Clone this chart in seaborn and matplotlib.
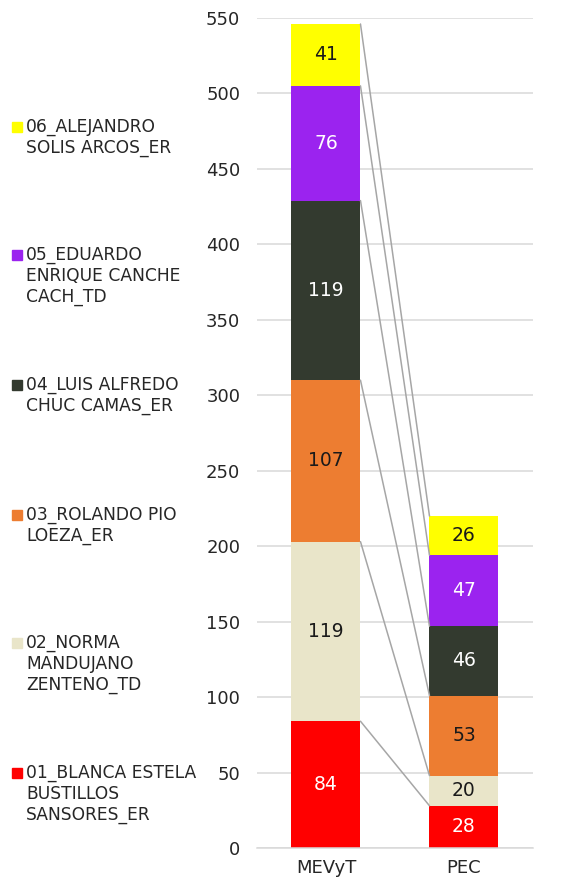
import numpy as np
import pandas as pd
import matplotlib
matplotlib.use("Agg")
import matplotlib.pyplot as plt
from matplotlib.patches import Rectangle
import seaborn as sns

# datos
categorias = ["MEVyT", "PEC"]
series = ["01_BLANCA ESTELA\nBUSTILLOS\nSANSORES_ER",
          "02_NORMA\nMANDUJANO\nZENTENO_TD",
          "03_ROLANDO PIO\nLOEZA_ER",
          "04_LUIS ALFREDO\nCHUC CAMAS_ER",
          "05_EDUARDO\nENRIQUE CANCHE\nCACH_TD",
          "06_ALEJANDRO\nSOLIS ARCOS_ER"]
valores = [[84, 28],
           [119, 20],
           [107, 53],
           [119, 46],
           [76, 47],
           [41, 26]]
colores = ["#FF0000", "#E9E5C9", "#ED7D31", "#333A2F", "#9B23EF", "#FFFF00"]
color_texto = ["white", "#1a1a1a", "#1a1a1a", "white", "white", "#1a1a1a"]

sns.set_style("white")
plt.rcParams["font.family"] = ["DejaVu Sans"]

vals = np.array(valores, dtype=float)
acum = np.cumsum(vals, axis=0)

fig = plt.figure(figsize=(5.78, 8.89), dpi=100)
ax = fig.add_axes([0.4446, 0.0461, 0.4775, 0.9337])

# barras apiladas: se dibuja el acumulado de arriba hacia abajo
for i in range(len(series) - 1, -1, -1):
    df = pd.DataFrame({"cat": categorias, "total": acum[i]})
    sns.barplot(data=df, x="cat", y="total", color=colores[i], width=0.5,
                saturation=1, ax=ax, errorbar=None, edgecolor="none", linewidth=0)

# etiquetas de datos
for i in range(len(series)):
    for j in range(len(categorias)):
        y = acum[i][j] - vals[i][j] / 2
        ax.text(j, y, f"{int(vals[i][j])}", ha="center", va="center",
                fontsize=13.5, color=color_texto[i])

# lineas de serie
for i in range(len(series)):
    x0 = 0 + 0.25
    x1 = 1 - 0.25
    ax.plot([x0, x1], [acum[i][0], acum[i][1]], color="#A6A6A6", lw=1.1, zorder=3)

ax.set_ylim(0, 550)
ax.set_xlim(-0.5, 1.5)
ax.set_yticks(range(0, 551, 50))
ax.yaxis.grid(True, color="#D9D9D9", lw=1.1)
ax.set_axisbelow(True)
ax.set_xlabel("")
ax.set_ylabel("")
for s in ["top", "right", "left"]:
    ax.spines[s].set_visible(False)
ax.spines["bottom"].set_color("#D9D9D9")
ax.spines["bottom"].set_linewidth(1.1)
ax.tick_params(axis="y", length=0, labelsize=13, labelcolor="#262626", pad=12)
ax.tick_params(axis="x", length=0, labelsize=13, labelcolor="#262626", pad=8)
ax.set_xticks([-0.5, 0.5, 1.5], minor=True)
ax.tick_params(axis="x", which="minor", length=6, color="#D9D9D9", width=1.1)

# leyenda a la izquierda
ys = [773, 643, 515, 385, 255, 127]
for i, lab in enumerate(series):
    yf = 1 - ys[i] / 889
    fig.patches.append(Rectangle((12 / 578, yf - 5 / 889), 10 / 578, 10 / 889,
                                 transform=fig.transFigure, color=colores[i]))
    fig.text(26 / 578, yf + 9 / 889, lab, ha="left", va="top", fontsize=12.3,
             color="#262626", linespacing=1.22)

fig.savefig("out.png", dpi=100)
